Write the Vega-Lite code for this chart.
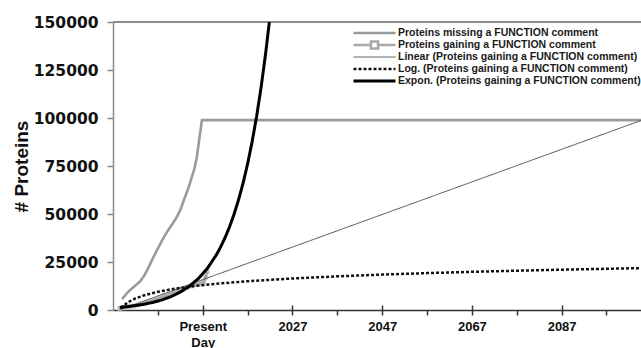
{
  "$schema": "https://vega.github.io/schema/vega-lite/v6.json",
  "width": 528,
  "height": 288,
  "autosize": {"type": "none"},
  "padding": {"left": 113, "top": 22, "right": 0, "bottom": 38},
  "background": "white",
  "config": {
    "view": {"stroke": null},
    "axis": {"grid": false},
    "axisY": {
      "domainColor": "#8a8a8a", "domainWidth": 1.5,
      "tickColor": "#8a8a8a", "tickWidth": 1.5, "tickSize": 6,
      "labelFont": "DejaVu Sans", "labelFontSize": 15.5, "labelFontWeight": "bold",
      "labelColor": "#111111", "labelPadding": 9,
      "titleFont": "Liberation Sans", "titleFontSize": 19, "titleFontWeight": "bold",
      "titleColor": "#111111", "titlePadding": 2
    },
    "legend": {
      "orient": "none",
      "legendX": 239,
      "legendY": 5,
      "title": null,
      "padding": 0,
      "symbolType": "stroke",
      "symbolSize": 1764,
      "clipHeight": 12,
      "rowPadding": 0,
      "labelOffset": 1,
      "labelFont": "Liberation Sans",
      "labelFontSize": 10.5,
      "labelFontWeight": "bold",
      "labelColor": "#1a1a1a",
      "labelLimit": 400
    }
  },
  "datasets": {
    "curves": [
      {"series": "Proteins missing a FUNCTION comment", "year": 1989.0, "proteins": 5600},
      {"series": "Proteins missing a FUNCTION comment", "year": 1990.0, "proteins": 8500},
      {"series": "Proteins missing a FUNCTION comment", "year": 1991.0, "proteins": 10800},
      {"series": "Proteins missing a FUNCTION comment", "year": 1992.0, "proteins": 12800},
      {"series": "Proteins missing a FUNCTION comment", "year": 1993.0, "proteins": 14800},
      {"series": "Proteins missing a FUNCTION comment", "year": 1994.0, "proteins": 18000},
      {"series": "Proteins missing a FUNCTION comment", "year": 1995.0, "proteins": 22500},
      {"series": "Proteins missing a FUNCTION comment", "year": 1996.0, "proteins": 27500},
      {"series": "Proteins missing a FUNCTION comment", "year": 1997.0, "proteins": 32000},
      {"series": "Proteins missing a FUNCTION comment", "year": 1998.0, "proteins": 36500},
      {"series": "Proteins missing a FUNCTION comment", "year": 1999.0, "proteins": 40500},
      {"series": "Proteins missing a FUNCTION comment", "year": 2000.0, "proteins": 44000},
      {"series": "Proteins missing a FUNCTION comment", "year": 2001.0, "proteins": 47500},
      {"series": "Proteins missing a FUNCTION comment", "year": 2002.0, "proteins": 52000},
      {"series": "Proteins missing a FUNCTION comment", "year": 2003.0, "proteins": 58500},
      {"series": "Proteins missing a FUNCTION comment", "year": 2003.8, "proteins": 63500},
      {"series": "Proteins missing a FUNCTION comment", "year": 2004.6, "proteins": 69400},
      {"series": "Proteins missing a FUNCTION comment", "year": 2005.2, "proteins": 74000},
      {"series": "Proteins missing a FUNCTION comment", "year": 2005.7, "proteins": 79800},
      {"series": "Proteins missing a FUNCTION comment", "year": 2006.0, "proteins": 85000},
      {"series": "Proteins missing a FUNCTION comment", "year": 2006.3, "proteins": 90200},
      {"series": "Proteins missing a FUNCTION comment", "year": 2006.6, "proteins": 95000},
      {"series": "Proteins missing a FUNCTION comment", "year": 2006.8, "proteins": 98900},
      {"series": "Proteins missing a FUNCTION comment", "year": 2104.7, "proteins": 98900},

      {"series": "Proteins gaining a FUNCTION comment", "year": 1988.5, "proteins": 800},
      {"series": "Proteins gaining a FUNCTION comment", "year": 1989.5, "proteins": 1200},
      {"series": "Proteins gaining a FUNCTION comment", "year": 1990.5, "proteins": 1600},
      {"series": "Proteins gaining a FUNCTION comment", "year": 1991.5, "proteins": 2100},
      {"series": "Proteins gaining a FUNCTION comment", "year": 1992.5, "proteins": 2600},
      {"series": "Proteins gaining a FUNCTION comment", "year": 1993.5, "proteins": 3200},
      {"series": "Proteins gaining a FUNCTION comment", "year": 1994.5, "proteins": 3900},
      {"series": "Proteins gaining a FUNCTION comment", "year": 1995.5, "proteins": 4600},
      {"series": "Proteins gaining a FUNCTION comment", "year": 1996.5, "proteins": 5500},
      {"series": "Proteins gaining a FUNCTION comment", "year": 1997.5, "proteins": 6400},
      {"series": "Proteins gaining a FUNCTION comment", "year": 1998.5, "proteins": 7300},
      {"series": "Proteins gaining a FUNCTION comment", "year": 1999.5, "proteins": 8200},
      {"series": "Proteins gaining a FUNCTION comment", "year": 2000.5, "proteins": 9100},
      {"series": "Proteins gaining a FUNCTION comment", "year": 2001.5, "proteins": 10000},
      {"series": "Proteins gaining a FUNCTION comment", "year": 2002.5, "proteins": 10900},
      {"series": "Proteins gaining a FUNCTION comment", "year": 2003.5, "proteins": 11800},
      {"series": "Proteins gaining a FUNCTION comment", "year": 2004.5, "proteins": 12500},
      {"series": "Proteins gaining a FUNCTION comment", "year": 2005.5, "proteins": 13200},
      {"series": "Proteins gaining a FUNCTION comment", "year": 2006.5, "proteins": 13800},
      {"series": "Proteins gaining a FUNCTION comment", "year": 2007.2, "proteins": 14500},
      {"series": "Proteins gaining a FUNCTION comment", "year": 2007.6, "proteins": 17000},
      {"series": "Proteins gaining a FUNCTION comment", "year": 2008.0, "proteins": 20000},

      {"series": "Linear (Proteins gaining a FUNCTION comment)", "year": 1988.5, "proteins": 100},
      {"series": "Linear (Proteins gaining a FUNCTION comment)", "year": 2104.7, "proteins": 98700},

      {"series": "Log. (Proteins gaining a FUNCTION comment)", "year": 1988.8, "proteins": 909},
      {"series": "Log. (Proteins gaining a FUNCTION comment)", "year": 1989.5, "proteins": 2552},
      {"series": "Log. (Proteins gaining a FUNCTION comment)", "year": 1990.5, "proteins": 4234},
      {"series": "Log. (Proteins gaining a FUNCTION comment)", "year": 1992, "proteins": 6017},
      {"series": "Log. (Proteins gaining a FUNCTION comment)", "year": 1994, "proteins": 7700},
      {"series": "Log. (Proteins gaining a FUNCTION comment)", "year": 1997, "proteins": 9483},
      {"series": "Log. (Proteins gaining a FUNCTION comment)", "year": 2000, "proteins": 10795},
      {"series": "Log. (Proteins gaining a FUNCTION comment)", "year": 2004, "proteins": 12136},
      {"series": "Log. (Proteins gaining a FUNCTION comment)", "year": 2007, "proteins": 12949},
      {"series": "Log. (Proteins gaining a FUNCTION comment)", "year": 2012, "proteins": 14065},
      {"series": "Log. (Proteins gaining a FUNCTION comment)", "year": 2017, "proteins": 14976},
      {"series": "Log. (Proteins gaining a FUNCTION comment)", "year": 2027, "proteins": 16414},
      {"series": "Log. (Proteins gaining a FUNCTION comment)", "year": 2037, "proteins": 17530},
      {"series": "Log. (Proteins gaining a FUNCTION comment)", "year": 2047, "proteins": 18442},
      {"series": "Log. (Proteins gaining a FUNCTION comment)", "year": 2057, "proteins": 19212},
      {"series": "Log. (Proteins gaining a FUNCTION comment)", "year": 2067, "proteins": 19880},
      {"series": "Log. (Proteins gaining a FUNCTION comment)", "year": 2077, "proteins": 20469},
      {"series": "Log. (Proteins gaining a FUNCTION comment)", "year": 2087, "proteins": 20996},
      {"series": "Log. (Proteins gaining a FUNCTION comment)", "year": 2097, "proteins": 21472},
      {"series": "Log. (Proteins gaining a FUNCTION comment)", "year": 2104.7, "proteins": 21811},

      {"series": "Expon. (Proteins gaining a FUNCTION comment)", "year": 1988.5, "proteins": 1408},
      {"series": "Expon. (Proteins gaining a FUNCTION comment)", "year": 1990, "proteins": 1737},
      {"series": "Expon. (Proteins gaining a FUNCTION comment)", "year": 1992, "proteins": 2297},
      {"series": "Expon. (Proteins gaining a FUNCTION comment)", "year": 1994, "proteins": 3040},
      {"series": "Expon. (Proteins gaining a FUNCTION comment)", "year": 1996, "proteins": 4022},
      {"series": "Expon. (Proteins gaining a FUNCTION comment)", "year": 1998, "proteins": 5322},
      {"series": "Expon. (Proteins gaining a FUNCTION comment)", "year": 2000, "proteins": 7041},
      {"series": "Expon. (Proteins gaining a FUNCTION comment)", "year": 2002, "proteins": 9318},
      {"series": "Expon. (Proteins gaining a FUNCTION comment)", "year": 2004, "proteins": 12327},
      {"series": "Expon. (Proteins gaining a FUNCTION comment)", "year": 2006, "proteins": 16310},
      {"series": "Expon. (Proteins gaining a FUNCTION comment)", "year": 2008, "proteins": 21580},
      {"series": "Expon. (Proteins gaining a FUNCTION comment)", "year": 2010, "proteins": 28550},
      {"series": "Expon. (Proteins gaining a FUNCTION comment)", "year": 2011, "proteins": 32840},
      {"series": "Expon. (Proteins gaining a FUNCTION comment)", "year": 2012, "proteins": 37770},
      {"series": "Expon. (Proteins gaining a FUNCTION comment)", "year": 2013, "proteins": 43450},
      {"series": "Expon. (Proteins gaining a FUNCTION comment)", "year": 2014, "proteins": 49980},
      {"series": "Expon. (Proteins gaining a FUNCTION comment)", "year": 2015, "proteins": 57490},
      {"series": "Expon. (Proteins gaining a FUNCTION comment)", "year": 2016, "proteins": 66130},
      {"series": "Expon. (Proteins gaining a FUNCTION comment)", "year": 2017, "proteins": 76070},
      {"series": "Expon. (Proteins gaining a FUNCTION comment)", "year": 2018, "proteins": 87500},
      {"series": "Expon. (Proteins gaining a FUNCTION comment)", "year": 2019, "proteins": 100650},
      {"series": "Expon. (Proteins gaining a FUNCTION comment)", "year": 2020, "proteins": 115770},
      {"series": "Expon. (Proteins gaining a FUNCTION comment)", "year": 2021, "proteins": 133170},
      {"series": "Expon. (Proteins gaining a FUNCTION comment)", "year": 2021.85, "proteins": 150000}
    ]
  },
  "data": {"name": "curves"},
  "resolve": {"axis": {"x": "independent"}},
  "layer": [
    {
      "mark": {"type": "rule", "color": "#8c8c8c", "strokeWidth": 2},
      "encoding": {
        "y": {
          "datum": 150000, "type": "quantitative",
          "scale": {"domain": [0, 150000], "nice": false},
          "axis": {"title": "# Proteins", "values": [0, 25000, 50000, 75000, 100000, 125000, 150000], "format": "d"}
        }
      }
    },
    {
      "transform": [{"filter": "datum.series === 'Proteins gaining a FUNCTION comment'"}],
      "mark": {"type": "point", "shape": "square", "filled": true, "size": 24, "color": "#c2c2c2", "opacity": 0.9},
      "encoding": {
        "x": {
          "field": "year", "type": "quantitative",
          "scale": {"domain": [1987, 2104.7], "nice": false, "zero": false},
          "axis": {
            "orient": "bottom", "values": [2007, 2027, 2047, 2067, 2087],
            "tickSize": -5, "tickColor": "#333333", "tickWidth": 1.5,
            "labels": false, "domain": false, "title": null
          }
        },
        "y": {
          "field": "proteins", "type": "quantitative",
          "axis": {"title": "# Proteins", "values": [0, 25000, 50000, 75000, 100000, 125000, 150000], "format": "d"}
        }
      }
    },
    {
      "mark": {"type": "line", "strokeCap": "butt", "strokeJoin": "round"},
      "encoding": {
        "x": {
          "field": "year", "type": "quantitative",
          "scale": {"domain": [1987, 2104.7], "nice": false, "zero": false},
          "axis": {
            "orient": "bottom",
            "values": [1997, 2007, 2017, 2027, 2037, 2047, 2057, 2067, 2077, 2087, 2097],
            "format": "d",
            "labelExpr": "datum.value == 2007 ? ['Present', 'Day'] : ((datum.value - 2007) % 20 == 0 ? datum.label : '')",
            "domainColor": "#333333", "domainWidth": 1.5,
            "tickColor": "#333333", "tickWidth": 1.5, "tickSize": 5,
            "labelFont": "Liberation Sans", "labelFontSize": 13, "labelFontWeight": "bold",
            "labelColor": "#111111", "labelPadding": 5, "labelLineHeight": 16,
            "labelOverlap": false, "labelFlush": false, "labelBound": false,
            "title": null
          }
        },
        "y": {
          "field": "proteins", "type": "quantitative",
          "axis": {"title": "# Proteins", "values": [0, 25000, 50000, 75000, 100000, 125000, 150000], "format": "d"}
        },
        "color": {
          "field": "series", "type": "nominal",
          "scale": {
            "domain": [
              "Proteins missing a FUNCTION comment",
              "Proteins gaining a FUNCTION comment",
              "Linear (Proteins gaining a FUNCTION comment)",
              "Log. (Proteins gaining a FUNCTION comment)",
              "Expon. (Proteins gaining a FUNCTION comment)"
            ],
            "range": ["#9a9a9a", "#a8a8a8", "#4d4d4d", "#111111", "#000000"]
          },
          "legend": {
            "encode": {
              "symbols": {
                "update": {
                  "shape": {"signal": "datum.value === 'Proteins gaining a FUNCTION comment' ? 'M-1,0H-0.17M0.17,0H1M-0.17,-0.17H0.17V0.17H-0.17Z' : 'stroke'"},
                  "fill": {"value": "white"}
                }
              }
            }
          }
        },
        "strokeWidth": {
          "field": "series", "type": "nominal",
          "scale": {
            "type": "ordinal",
            "domain": [
              "Proteins missing a FUNCTION comment",
              "Proteins gaining a FUNCTION comment",
              "Linear (Proteins gaining a FUNCTION comment)",
              "Log. (Proteins gaining a FUNCTION comment)",
              "Expon. (Proteins gaining a FUNCTION comment)"
            ],
            "range": [2.6, 2.6, 1, 2.5, 3]
          }
        },
        "strokeDash": {
          "field": "series", "type": "nominal",
          "scale": {
            "domain": [
              "Proteins missing a FUNCTION comment",
              "Proteins gaining a FUNCTION comment",
              "Linear (Proteins gaining a FUNCTION comment)",
              "Log. (Proteins gaining a FUNCTION comment)",
              "Expon. (Proteins gaining a FUNCTION comment)"
            ],
            "range": [[1, 0], [1, 0], [1, 0], [3, 2], [1, 0]]
          }
        }
      }
    }
  ]
}
